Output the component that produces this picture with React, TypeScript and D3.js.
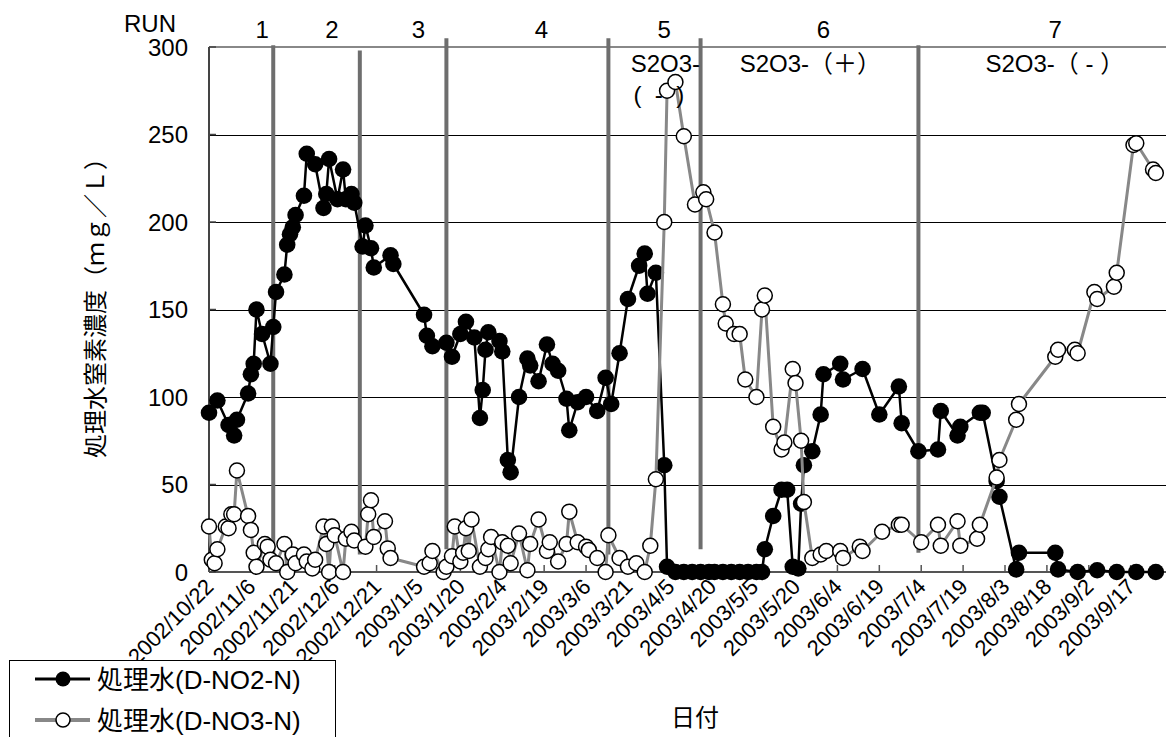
import React from 'react';
import * as d3 from 'd3';

// D-NO2-N (black) and D-NO3-N (white) in treated water, mg/L
const no2Dates = [
  '2002/10/22', '2002/10/25', '2002/10/29', '2002/10/31', '2002/11/1', '2002/11/5', '2002/11/6', '2002/11/7',
  '2002/11/8', '2002/11/10', '2002/11/13', '2002/11/14', '2002/11/15', '2002/11/18', '2002/11/19', '2002/11/20',
  '2002/11/21', '2002/11/22', '2002/11/25', '2002/11/26', '2002/11/29', '2002/12/2', '2002/12/3', '2002/12/4',
  '2002/12/7', '2002/12/9', '2002/12/10', '2002/12/12', '2002/12/13', '2002/12/16', '2002/12/17', '2002/12/19',
  '2002/12/20', '2002/12/26', '2002/12/27', '2003/1/7', '2003/1/8', '2003/1/10', '2003/1/15', '2003/1/17',
  '2003/1/20', '2003/1/22', '2003/1/25', '2003/1/27', '2003/1/28', '2003/1/29', '2003/1/30', '2003/2/3',
  '2003/2/4', '2003/2/6', '2003/2/7', '2003/2/10', '2003/2/13', '2003/2/14', '2003/2/17', '2003/2/20',
  '2003/2/22', '2003/2/24', '2003/2/27', '2003/2/28', '2003/3/3', '2003/3/6', '2003/3/10', '2003/3/13',
  '2003/3/15', '2003/3/18', '2003/3/21', '2003/3/25', '2003/3/27', '2003/3/28', '2003/3/31', '2003/4/3',
  '2003/4/4', '2003/4/7', '2003/4/10', '2003/4/13', '2003/4/16', '2003/4/19', '2003/4/21', '2003/4/24',
  '2003/4/27', '2003/4/30', '2003/5/3', '2003/5/6', '2003/5/8', '2003/5/9', '2003/5/12', '2003/5/15',
  '2003/5/17', '2003/5/19', '2003/5/21', '2003/5/22', '2003/5/23', '2003/5/26', '2003/5/29', '2003/5/30',
  '2003/6/5', '2003/6/6', '2003/6/13', '2003/6/19', '2003/6/26', '2003/6/27', '2003/7/3', '2003/7/10',
  '2003/7/11', '2003/7/17', '2003/7/18', '2003/7/25', '2003/7/26', '2003/7/31', '2003/8/1', '2003/8/7',
  '2003/8/8', '2003/8/21', '2003/8/22', '2003/8/29', '2003/9/5', '2003/9/12', '2003/9/19', '2003/9/26',
];
const no2Values = [
  91, 98, 84, 78, 87, 102, 113, 119,
  150, 136, 119, 140, 160, 170, 187, 193,
  197, 204, 215, 239, 233, 208, 216, 236,
  213, 230, 213, 216, 211, 186, 198, 185,
  174, 181, 176, 147, 135, 129, 131, 123,
  136, 143, 134, 88, 104, 127, 137, 132,
  126, 64, 57, 100, 122, 118, 109, 130,
  119, 115, 99, 81, 97, 100, 92, 111,
  96, 125, 156, 175, 182, 159, 171, 61,
  3, 0, 0, 0, 0, 0, 0, 0,
  0, 0, 0, 0, 0, 13, 32, 47,
  47, 3, 2, 39, 61, 69, 90, 113,
  119, 110, 116, 90, 106, 85, 69, 70,
  92, 78, 83, 91, 91, 52, 43, 1.5,
  11, 11, 1.5, 0, 1, 0, 0, 0,
];

const no3Dates = [
  '2002/10/22', '2002/10/23', '2002/10/24', '2002/10/25', '2002/10/28', '2002/10/29', '2002/10/30', '2002/10/31',
  '2002/11/1', '2002/11/5', '2002/11/6', '2002/11/7', '2002/11/8', '2002/11/11', '2002/11/12', '2002/11/13',
  '2002/11/15', '2002/11/18', '2002/11/19', '2002/11/21', '2002/11/22', '2002/11/25', '2002/11/26', '2002/11/28',
  '2002/11/29', '2002/12/2', '2002/12/3', '2002/12/4', '2002/12/5', '2002/12/6', '2002/12/9', '2002/12/10',
  '2002/12/12', '2002/12/13', '2002/12/17', '2002/12/18', '2002/12/19', '2002/12/20', '2002/12/24', '2002/12/25',
  '2002/12/26', '2003/1/7', '2003/1/9', '2003/1/10', '2003/1/14', '2003/1/15', '2003/1/17', '2003/1/18',
  '2003/1/20', '2003/1/21', '2003/1/22', '2003/1/23', '2003/1/24', '2003/1/27', '2003/1/29', '2003/1/30',
  '2003/1/31', '2003/2/3', '2003/2/4', '2003/2/6', '2003/2/7', '2003/2/10', '2003/2/13', '2003/2/14',
  '2003/2/17', '2003/2/20', '2003/2/21', '2003/2/24', '2003/2/27', '2003/2/28', '2003/3/3', '2003/3/6',
  '2003/3/7', '2003/3/10', '2003/3/13', '2003/3/14', '2003/3/18', '2003/3/21', '2003/3/24', '2003/3/27',
  '2003/3/29', '2003/3/31', '2003/4/3', '2003/4/4', '2003/4/7', '2003/4/10', '2003/4/14', '2003/4/17',
  '2003/4/18', '2003/4/21', '2003/4/24', '2003/4/25', '2003/4/28', '2003/4/30', '2003/5/2', '2003/5/6',
  '2003/5/8', '2003/5/9', '2003/5/12', '2003/5/15', '2003/5/16', '2003/5/19', '2003/5/20', '2003/5/22',
  '2003/5/23', '2003/5/26', '2003/5/29', '2003/5/31', '2003/6/5', '2003/6/6', '2003/6/12', '2003/6/13',
  '2003/6/20', '2003/6/26', '2003/6/27', '2003/7/4', '2003/7/10', '2003/7/11', '2003/7/17', '2003/7/18',
  '2003/7/24', '2003/7/25', '2003/7/31', '2003/8/1', '2003/8/7', '2003/8/8', '2003/8/21', '2003/8/22',
  '2003/8/28', '2003/8/29', '2003/9/4', '2003/9/5', '2003/9/11', '2003/9/12', '2003/9/18', '2003/9/19',
  '2003/9/25', '2003/9/26',
];
const no3Values = [
  26, 7, 5, 13, 26, 25, 33, 33,
  58, 32, 24, 11, 3, 16, 14.5, 7,
  5, 16, 0, 10, 5, 10, 6, 2,
  7, 26, 16, 0, 26, 21, 0, 19,
  23, 18, 14.5, 33, 41, 20, 29, 13.5,
  8, 3, 5, 12, 0, 3, 9, 26,
  6, 11, 25, 12, 30, 3, 8, 13,
  20, 0, 17, 15, 5, 22, 1, 16,
  30, 12, 17, 6, 16, 34.5, 17, 14.5,
  12.6, 8, 0, 21, 8, 3, 5, 0,
  15, 53, 200, 275, 280, 249, 210, 217,
  213, 194, 153, 142, 136, 136, 110, 100,
  150, 158, 83, 70, 74, 116, 108, 75,
  40, 8, 10, 12, 12, 8, 14.5, 12,
  23, 27, 27, 17, 27, 15, 29, 15,
  19, 27, 54, 64, 87, 96, 123, 127,
  127, 125, 160, 156, 163, 171, 244, 245,
  230, 228,
];

const xTickLabels = [
  '2002/10/22', '2002/11/6', '2002/11/21', '2002/12/6', '2002/12/21', '2003/1/5', '2003/1/20', '2003/2/4',
  '2003/2/19', '2003/3/6', '2003/3/21', '2003/4/5', '2003/4/20', '2003/5/5', '2003/5/20', '2003/6/4',
  '2003/6/19', '2003/7/4', '2003/7/19', '2003/8/3', '2003/8/18', '2003/9/2', '2003/9/17',
];
const yTicks = [0, 50, 100, 150, 200, 250, 300];

// RUN boundaries (drawn bars) and labels
const runDividerDates = ['2002/11/14', '2002/12/15', '2003/1/15', '2003/3/14', '2003/4/16', '2003/7/3'];
const runDividerTop = [301, 298, 305, 305, 305, 301];
const runDividerBottom = [6, 10, 13, 10, 13, 11];
const runNames = ['1', '2', '3', '4', '5', '6', '7'];
const runLabelDates = ['2002/11/10', '2002/12/5', '2003/1/5', '2003/2/18', '2003/4/3', '2003/5/30', '2003/8/21'];

const noteTexts = ['S2O3-', '(  -  )', 'S2O3-（＋）', 'S2O3-（ - ）'];
const noteDates = ['2003/3/22', '2003/3/23', '2003/4/30', '2003/7/27'];
const noteValues = [286, 268, 286, 286];

const seriesNames = ['処理水(D-NO2-N)', '処理水(D-NO3-N)'];

const parseDate = (s: string) => {
  const [y, m, d] = s.split('/').map(Number);
  return new Date(y, m - 1, d);
};

const FONT = '"Liberation Sans", Arial, "Noto Sans CJK JP", sans-serif';

export default function App() {
  const width = 1166;
  const height = 737;
  const plotLeft = 209;
  const plotTop = 47;
  const plotBottom = 572;

  const x = d3.scaleTime()
    .domain([parseDate('2002/10/22'), parseDate('2003/9/30')])
    .range([plotLeft, 1167]);
  const y = d3.scaleLinear().domain([0, 300]).range([plotBottom, plotTop]);

  const no2 = no2Dates.map((d, i) => ({ date: parseDate(d), value: no2Values[i] }));
  const no3 = no3Dates.map((d, i) => ({ date: parseDate(d), value: no3Values[i] }));

  const line = d3.line<{ date: Date; value: number }>()
    .x(d => x(d.date))
    .y(d => y(d.value));

  const tickDates = xTickLabels.map(parseDate);

  return (
    <svg width={width} height={height} style={{ position: 'absolute', left: 0, top: 0, background: '#fff' }}
      fontFamily={FONT}>
      {/* gridlines */}
      {yTicks.filter(t => t > 0 && t < 300).map(t => (
        <line key={t} x1={plotLeft} x2={width} y1={Math.round(y(t)) + 0.5} y2={Math.round(y(t)) + 0.5}
          stroke="#000" strokeWidth={1} />
      ))}
      <line x1={plotLeft} x2={width} y1={plotTop} y2={plotTop} stroke="#888" strokeWidth={2} />

      {/* RUN dividers */}
      {runDividerDates.map((d, i) => (
        <line key={d} x1={x(parseDate(d))} x2={x(parseDate(d))} y1={y(runDividerTop[i])} y2={y(runDividerBottom[i])}
          stroke="#6e6e6e" strokeWidth={4} />
      ))}

      {/* axes */}
      <line x1={plotLeft} x2={plotLeft} y1={plotTop} y2={plotBottom} stroke="#444" strokeWidth={2} />
      <line x1={plotLeft} x2={width} y1={plotBottom} y2={plotBottom} stroke="#555" strokeWidth={2} />
      {yTicks.map(t => (
        <g key={t}>
          <line x1={plotLeft} x2={plotLeft + 7} y1={y(t)} y2={y(t)} stroke="#444" strokeWidth={1.5} />
          <text x={188} y={y(t)} dy="0.36em" textAnchor="end" fontSize={24}>{t}</text>
        </g>
      ))}
      {tickDates.map((d, i) => (
        <g key={xTickLabels[i]}>
          <line x1={x(d)} x2={x(d)} y1={plotBottom - 7} y2={plotBottom} stroke="#555" strokeWidth={1.5} />
          <text transform={`translate(${x(d) + 6},${plotBottom + 16}) rotate(-45)`} textAnchor="end" fontSize={22}>
            {xTickLabels[i]}
          </text>
        </g>
      ))}

      {/* series */}
      <path d={line(no2) ?? ''} fill="none" stroke="#000" strokeWidth={2.5} strokeLinejoin="round" />
      {no2.map((p, i) => (
        <circle key={i} cx={x(p.date)} cy={y(p.value)} r={8.3} fill="#000" />
      ))}
      <path d={line(no3) ?? ''} fill="none" stroke="#888" strokeWidth={3} strokeLinejoin="round" />
      {no3.map((p, i) => (
        <circle key={i} cx={x(p.date)} cy={y(p.value)} r={7.5} fill="#fff" stroke="#000" strokeWidth={1.5} />
      ))}

      {/* RUN labels */}
      <text x={150} y={32} textAnchor="middle" fontSize={24}>RUN</text>
      {runNames.map((n, i) => (
        <text key={n} x={x(parseDate(runLabelDates[i]))} y={38} textAnchor="middle" fontSize={24}>{n}</text>
      ))}
      {noteTexts.map((t, i) => (
        <text key={i} x={x(parseDate(noteDates[i]))} y={y(noteValues[i])} fontSize={24} style={{ whiteSpace: 'pre' }}>{t}</text>
      ))}

      {/* axis titles */}
      <text transform="translate(104,302) rotate(-90)" textAnchor="middle" fontSize={24}>処理水窒素濃度（ｍｇ／Ｌ）</text>
      <text x={695} y={726} textAnchor="middle" fontSize={24}>日付</text>

      {/* legend */}
      <rect x={9.5} y={660.5} width={326} height={100} fill="#fff" stroke="#000" strokeWidth={1} />
      <line x1={35} x2={90} y1={679} y2={679} stroke="#000" strokeWidth={3} />
      <circle cx={63} cy={679} r={7.5} fill="#000" />
      <text x={97} y={689} fontSize={26}>{seriesNames[0]}</text>
      <line x1={35} x2={90} y1={720} y2={720} stroke="#888" strokeWidth={4} />
      <circle cx={63} cy={720} r={7} fill="#fff" stroke="#000" strokeWidth={1.5} />
      <text x={97} y={730} fontSize={26}>{seriesNames[1]}</text>
    </svg>
  );
}
